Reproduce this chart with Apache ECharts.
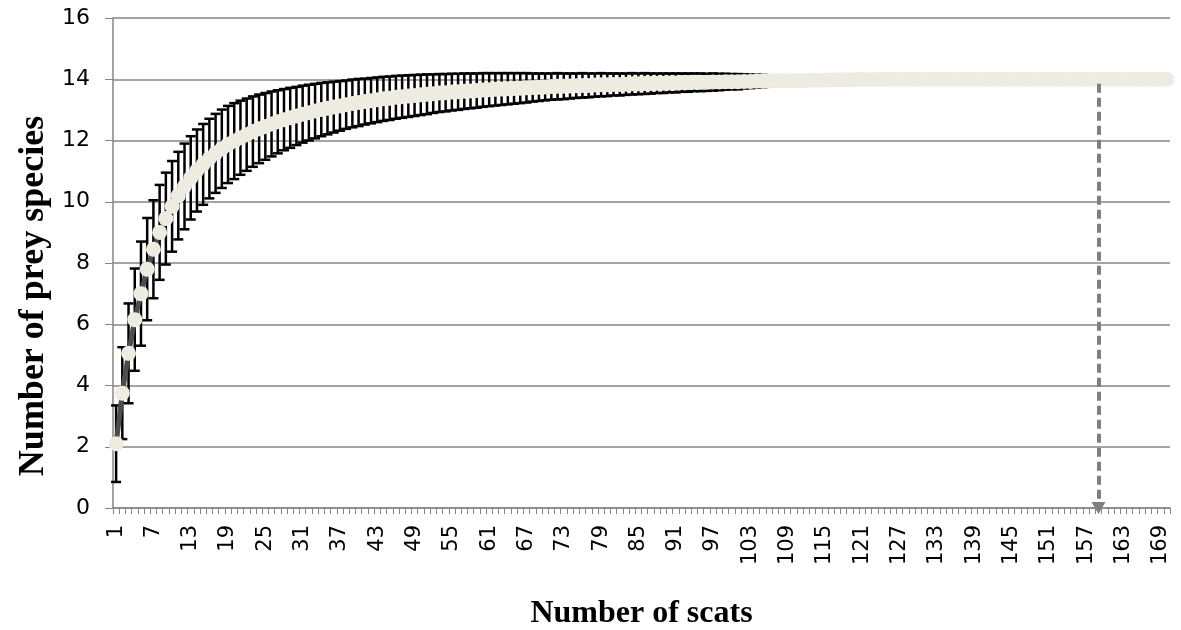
<!DOCTYPE html>
<html>
<head>
<meta charset="utf-8">
<script src="https://cdn.jsdelivr.net/npm/echarts@6/dist/echarts.min.js"></script>
<style>
html,body{margin:0;padding:0;background:#fff;}
#chart{width:1181px;height:630px;}
</style>
</head>
<body>
<div id="chart"></div>
<script>
// Number of scats (categories 1..170)
const scats = [];
for (let i = 1; i <= 170; i++) scats.push(String(i));

// Mean number of prey species
const meanSpecies = [
 2.1,3.75,5.05,6.15,7.0,7.8,8.45,9.0,9.45,9.85,
 10.2,10.5,10.78,11.02,11.22,11.41,11.58,11.73,11.87,11.98,
 12.09,12.19,12.29,12.38,12.46,12.54,12.61,12.68,12.74,12.8,
 12.86,12.91,12.96,13.01,13.05,13.09,13.13,13.17,13.21,13.24,
 13.27,13.3,13.33,13.36,13.38,13.41,13.43,13.45,13.47,13.49,
 13.51,13.53,13.55,13.56,13.58,13.59,13.61,13.62,13.63,13.65,
 13.66,13.67,13.68,13.69,13.7,13.71,13.72,13.73,13.74,13.75,
 13.76,13.77,13.77,13.78,13.79,13.8,13.8,13.81,13.82,13.82,
 13.83,13.83,13.84,13.85,13.85,13.86,13.86,13.87,13.87,13.88,
 13.88,13.89,13.89,13.9,13.9,13.9,13.91,13.91,13.92,13.92,
 13.92,13.93,13.93,13.94,13.94,13.94,13.95,13.95,13.95,13.96,
 13.96,13.96,13.97,13.97,13.97,13.98,13.98,13.98,13.98,13.99,
 13.99,13.99,13.99,13.99,14,14,14,14,14,14,
 14,14,14,14,14,14,14,14,14,14,
 14,14,14,14,14,14,14,14,14,14,
 14,14,14,14,14,14,14,14,14,14,
 14,14,14,14,14,14,14,14,14,14
];

// Standard deviation (error bars)
const sdSpecies = [
 1.25,1.5,1.63,1.67,1.7,1.67,1.6,1.55,1.5,1.48,
 1.43,1.4,1.36,1.34,1.32,1.3,1.29,1.28,1.26,1.24,
 1.21,1.18,1.15,1.12,1.09,1.06,1.03,1.0,0.98,0.95,
 0.93,0.91,0.89,0.87,0.85,0.83,0.81,0.79,0.78,0.77,
 0.75,0.74,0.73,0.72,0.71,0.7,0.69,0.68,0.67,0.66,
 0.65,0.63,0.62,0.61,0.6,0.59,0.58,0.57,0.56,0.55,
 0.54,0.53,0.52,0.51,0.5,0.49,0.48,0.46,0.45,0.44,
 0.43,0.43,0.42,0.41,0.4,0.4,0.39,0.38,0.38,0.37,
 0.36,0.36,0.35,0.35,0.34,0.34,0.33,0.32,0.32,0.31,
 0.31,0.3,0.3,0.29,0.29,0.28,0.28,0.27,0.26,0.25,
 0.25,0.23,0.22,0.21,0.2,0.18,0.16,0.14,0.13,0.12,
 0.11,0.1,0.09,0.09,0.08,0.08,0.07,0.07,0.06,0.06,
 0.05,0.05,0.05,0.04,0.04,0.03,0.03,0.02,0,0,
 0,0,0,0,0,0,0,0,0,0,
 0,0,0,0,0,0,0,0,0,0,
 0,0,0,0,0,0,0,0,0,0,
 0,0,0,0,0,0,0,0,0,0
];

const yTicks = [0,2,4,6,8,10,12,14,16];
const arrowScat = '159';
const arrowTop = 13.85;
const arrowBottom = 0;
const xTitle = 'Number of scats';
const yTitle = 'Number of prey species';

const errData = scats.map((c, i) => [i, meanSpecies[i] - sdSpecies[i], meanSpecies[i] + sdSpecies[i]]);

const chart = echarts.init(document.getElementById('chart'), null, {renderer: 'canvas'});
const axisGray = '#868686';
chart.setOption({
  animation: false,
  backgroundColor: '#ffffff',
  grid: {left: 113, right: 11, top: 18, bottom: 122, containLabel: false, outerBoundsMode: 'none'},
  graphic: [{
    type: 'text',
    x: 34, y: 296,
    rotation: Math.PI / 2,
    silent: true,
    style: {
      text: yTitle,
      fontFamily: 'Liberation Serif', fontWeight: 'bold', fontSize: 36,
      fill: '#000', align: 'center', verticalAlign: 'middle'
    }
  }],
  xAxis: {
    type: 'category',
    data: scats,
    boundaryGap: true,
    name: xTitle,
    nameLocation: 'middle',
    nameGap: 90,
    nameTextStyle: {fontFamily: 'Liberation Serif', fontWeight: 'bold', fontSize: 32, color: '#000'},
    axisLine: {lineStyle: {color: axisGray, width: 1.5}},
    axisTick: {show: true, interval: 0, length: 6, lineStyle: {color: axisGray, width: 1}},
    axisLabel: {interval: 5, rotate: 90, margin: 17, fontFamily: 'DejaVu Sans', fontSize: 21, color: '#000'},
    splitLine: {show: false}
  },
  yAxis: {
    type: 'value',
    min: yTicks[0], max: yTicks[yTicks.length - 1], interval: 2,
    axisLine: {show: true, lineStyle: {color: axisGray, width: 1.5}},
    axisTick: {show: true, length: 8, lineStyle: {color: axisGray, width: 1}},
    axisLabel: {margin: 23, fontFamily: 'DejaVu Sans', fontSize: 22, color: '#000'},
    splitLine: {show: true, lineStyle: {color: axisGray, width: 1.5}}
  },
  series: [
    {
      type: 'custom',
      name: 'sd',
      z: 2,
      silent: true,
      data: errData,
      renderItem: function (params, api) {
        const x = api.value(0);
        const lo = api.coord([x, api.value(1)]);
        const hi = api.coord([x, api.value(2)]);
        if (Math.abs(hi[1] - lo[1]) < 0.5) return null;
        const w = 5;
        const st = {stroke: '#000', lineWidth: 2.5};
        return {
          type: 'group',
          children: [
            {type: 'line', shape: {x1: hi[0], y1: hi[1], x2: lo[0], y2: lo[1]}, style: st},
            {type: 'line', shape: {x1: hi[0] - w, y1: hi[1], x2: hi[0] + w, y2: hi[1]}, style: st},
            {type: 'line', shape: {x1: lo[0] - w, y1: lo[1], x2: lo[0] + w, y2: lo[1]}, style: st}
          ]
        };
      }
    },
    {
      type: 'line',
      name: 'mean',
      z: 3,
      data: meanSpecies,
      showAllSymbol: true,
      symbol: 'circle',
      symbolSize: 15,
      itemStyle: {color: '#EEECE1', borderWidth: 0},
      lineStyle: {color: '#4d4d4d', width: 5},
      silent: true,
      markLine: {
        silent: true,
        symbol: ['none', 'triangle'],
        symbolSize: [14, 12],
        label: {show: false},
        lineStyle: {color: '#7f7f7f', width: 4, type: [9, 5]},
        data: [[{coord: [arrowScat, arrowTop]}, {coord: [arrowScat, arrowBottom]}]]
      }
    }
  ]
});
</script>
</body>
</html>
